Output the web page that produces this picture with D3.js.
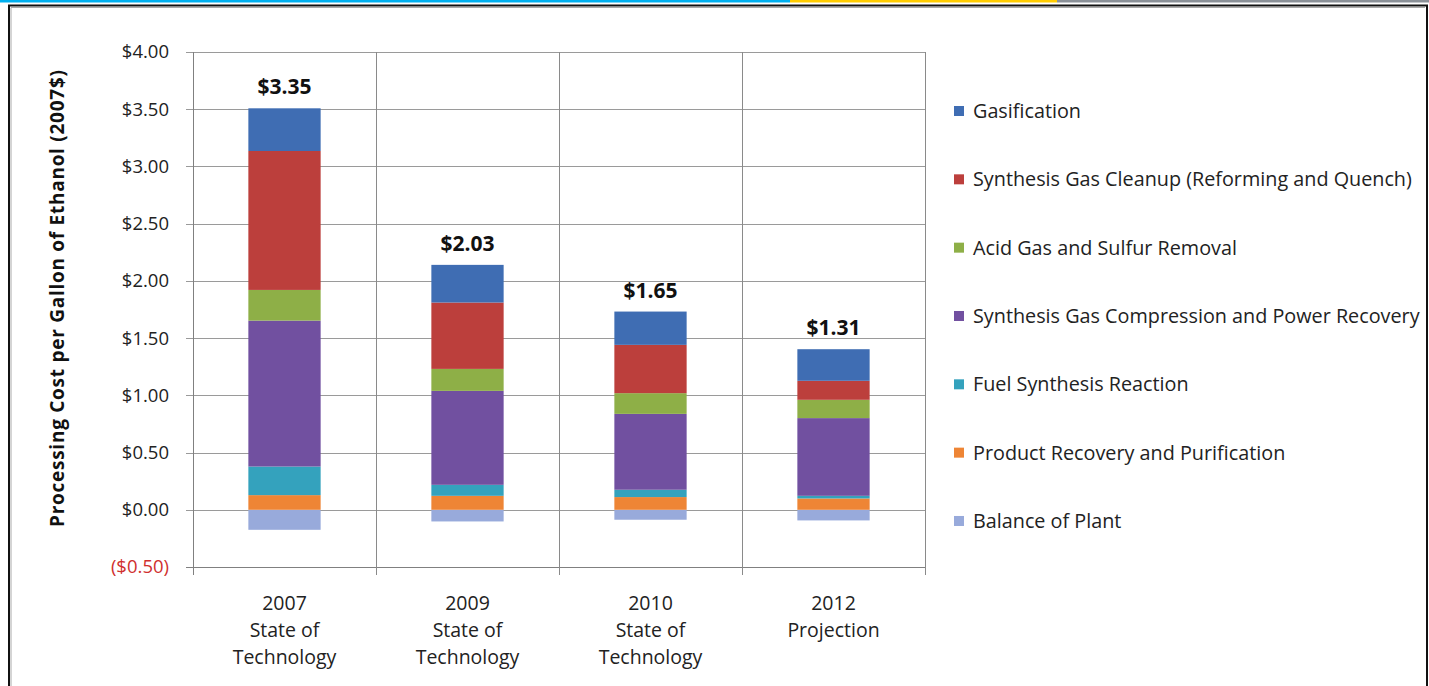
<!DOCTYPE html>
<html>
<head>
<meta charset="utf-8">
<script src="https://cdn.jsdelivr.net/npm/d3@7"></script>
<style>
  html, body { margin: 0; padding: 0; background: #fff; }
  svg { display: block; font-family: "Open Sans", "Liberation Sans", sans-serif; }
</style>
</head>
<body>
<svg id="chart" width="1429" height="686"></svg>
<script>
// ---- Data ----
const categories = ["2007|State of|Technology", "2009|State of|Technology", "2010|State of|Technology", "2012|Projection"];
const seriesNames = [
  "Gasification",
  "Synthesis Gas Cleanup (Reforming and Quench)",
  "Acid Gas and Sulfur Removal",
  "Synthesis Gas Compression and Power Recovery",
  "Fuel Synthesis Reaction",
  "Product Recovery and Purification",
  "Balance of Plant"
];
const gasification   = [0.373, 0.329, 0.291, 0.276];
const cleanup        = [1.214, 0.580, 0.422, 0.166];
const acidGas        = [0.268, 0.192, 0.181, 0.160];
const compression    = [1.275, 0.821, 0.663, 0.679];
const fuelSynthesis  = [0.250, 0.096, 0.064, 0.023];
const productRecovery= [0.128, 0.122, 0.111, 0.099];
const balanceOfPlant = [-0.175, -0.102, -0.087, -0.093];
const totalLabels = ["$3.35", "$2.03", "$1.65", "$1.31"];
const yTicks = [-0.5, 0, 0.5, 1, 1.5, 2, 2.5, 3, 3.5, 4];
const yTitle = "Processing Cost per Gallon of Ethanol (2007$)";

const seriesValues = [gasification, cleanup, acidGas, compression, fuelSynthesis, productRecovery, balanceOfPlant];
const colors = ["#3F6DB3", "#BC3F3C", "#8EAF47", "#7150A0", "#34A2BD", "#EE8535", "#98AADB"];

// ---- Build table ----
const table = categories.map((c, i) => {
  const row = { cat: c };
  seriesNames.forEach((s, j) => row[s] = seriesValues[j][i]);
  return row;
});
const stackKeys = seriesNames.slice().reverse(); // bottom to top
const stacked = d3.stack().keys(stackKeys).offset(d3.stackOffsetDiverging)(table);

const svg = d3.select("#chart");

// ---- Frame ----
const topStrip = [["#00B0F0", 0, 790], ["#FFCC00", 790, 1057], ["#8A9097", 1057, 1429]];
svg.selectAll("rect.strip").data(topStrip).join("rect")
  .attr("x", d => d[1]).attr("y", 0).attr("width", d => d[2] - d[1]).attr("height", 2.5)
  .attr("fill", d => d[0]);
svg.append("path").attr("d", "M9,700 L9,5.5 L1427,5.5 L1427,700").attr("fill", "none").attr("stroke", "#111").attr("stroke-width", 2);
svg.append("path").attr("d", "M11,700 L11,7.5 L1425,7.5").attr("fill", "none").attr("stroke", "#aaa").attr("stroke-width", 1);

// ---- Scales ----
const plotLeft = 193, plotRight = 925, plotTop = 52, plotBottom = 567;
const x = d3.scaleBand().domain(categories).range([plotLeft, plotRight]).paddingInner(0).paddingOuter(0);
const y = d3.scaleLinear().domain([-0.5, 4]).range([plotBottom, plotTop]);
const barW = x.bandwidth() * 0.395;

// ---- Grid ----
const g = svg.append("g");
g.selectAll("line.hgrid").data(yTicks).join("line")
  .attr("x1", plotLeft - 7).attr("x2", plotRight)
  .attr("y1", d => Math.round(y(d)) + 0.5).attr("y2", d => Math.round(y(d)) + 0.5)
  .attr("stroke", d => d === -0.5 ? "#808080" : "#9a9a9a").attr("stroke-width", 1);

const boundaries = categories.map(c => x(c) + x.bandwidth());
g.selectAll("line.vgrid").data(boundaries).join("line")
  .attr("x1", d => Math.round(d) + 0.5).attr("x2", d => Math.round(d) + 0.5)
  .attr("y1", plotTop).attr("y2", plotBottom + 8)
  .attr("stroke", "#8a8a8a").attr("stroke-width", 1);

// y axis line
g.append("line").attr("x1", plotLeft + 0.5).attr("x2", plotLeft + 0.5)
  .attr("y1", plotTop).attr("y2", plotBottom + 8).attr("stroke", "#808080");

// ---- Y tick labels ----
const fmt = v => v < 0 ? "($" + Math.abs(v).toFixed(2) + ")" : "$" + v.toFixed(2);
svg.append("g").selectAll("text").data(yTicks).join("text")
  .attr("x", 169).attr("y", d => y(d)).attr("dy", "0.35em")
  .attr("text-anchor", "end").attr("font-size", 18.5)
  .attr("fill", d => d < 0 ? "#D0302E" : "#222")
  .text(fmt);

// ---- Y title ----
svg.append("text")
  .attr("transform", `translate(64, ${(70 + 527) / 2}) rotate(-90)`)
  .attr("text-anchor", "middle").attr("font-size", 19).attr("font-weight", "bold").attr("fill", "#111")
  .attr("textLength", 457).attr("lengthAdjust", "spacing")
  .text(yTitle);

// ---- Bars ----
const bars = svg.append("g");
stacked.forEach((layer) => {
  const idx = seriesNames.indexOf(layer.key);
  bars.selectAll(null).data(layer).join("rect")
    .attr("x", d => x(d.data.cat) + x.bandwidth() / 2 - barW / 2)
    .attr("width", barW)
    .attr("y", d => y(Math.max(d[0], d[1])))
    .attr("height", d => Math.abs(y(d[0]) - y(d[1])))
    .attr("fill", colors[idx]);
});

// ---- Total labels ----
const tops = categories.map((c, i) => d3.sum(seriesValues, s => Math.max(0, s[i])));
svg.append("g").selectAll("text").data(categories).join("text")
  .attr("x", d => x(d) + x.bandwidth() / 2)
  .attr("y", (d, i) => y(tops[i]) - 14)
  .attr("text-anchor", "middle").attr("font-size", 21).attr("font-weight", "bold").attr("fill", "#111")
  .text((d, i) => totalLabels[i]);

// ---- Category labels ----
const catG = svg.append("g");
categories.forEach(c => {
  const t = catG.append("text").attr("text-anchor", "middle").attr("font-size", 19.5).attr("fill", "#222");
  c.split("|").forEach((line, k) => {
    t.append("tspan").attr("x", x(c) + x.bandwidth() / 2).attr("y", 610 + k * 27).text(line);
  });
});

// ---- Legend ----
const leg = svg.append("g");
seriesNames.forEach((s, i) => {
  const cy = 111 + i * 68.33;
  leg.append("rect").attr("x", 954).attr("y", cy - 5).attr("width", 10).attr("height", 10).attr("fill", colors[i]);
  leg.append("text").attr("x", 973).attr("y", cy).attr("dy", "0.35em")
    .attr("font-size", 19.8).attr("fill", "#222").text(s);
});
</script>
</body>
</html>
